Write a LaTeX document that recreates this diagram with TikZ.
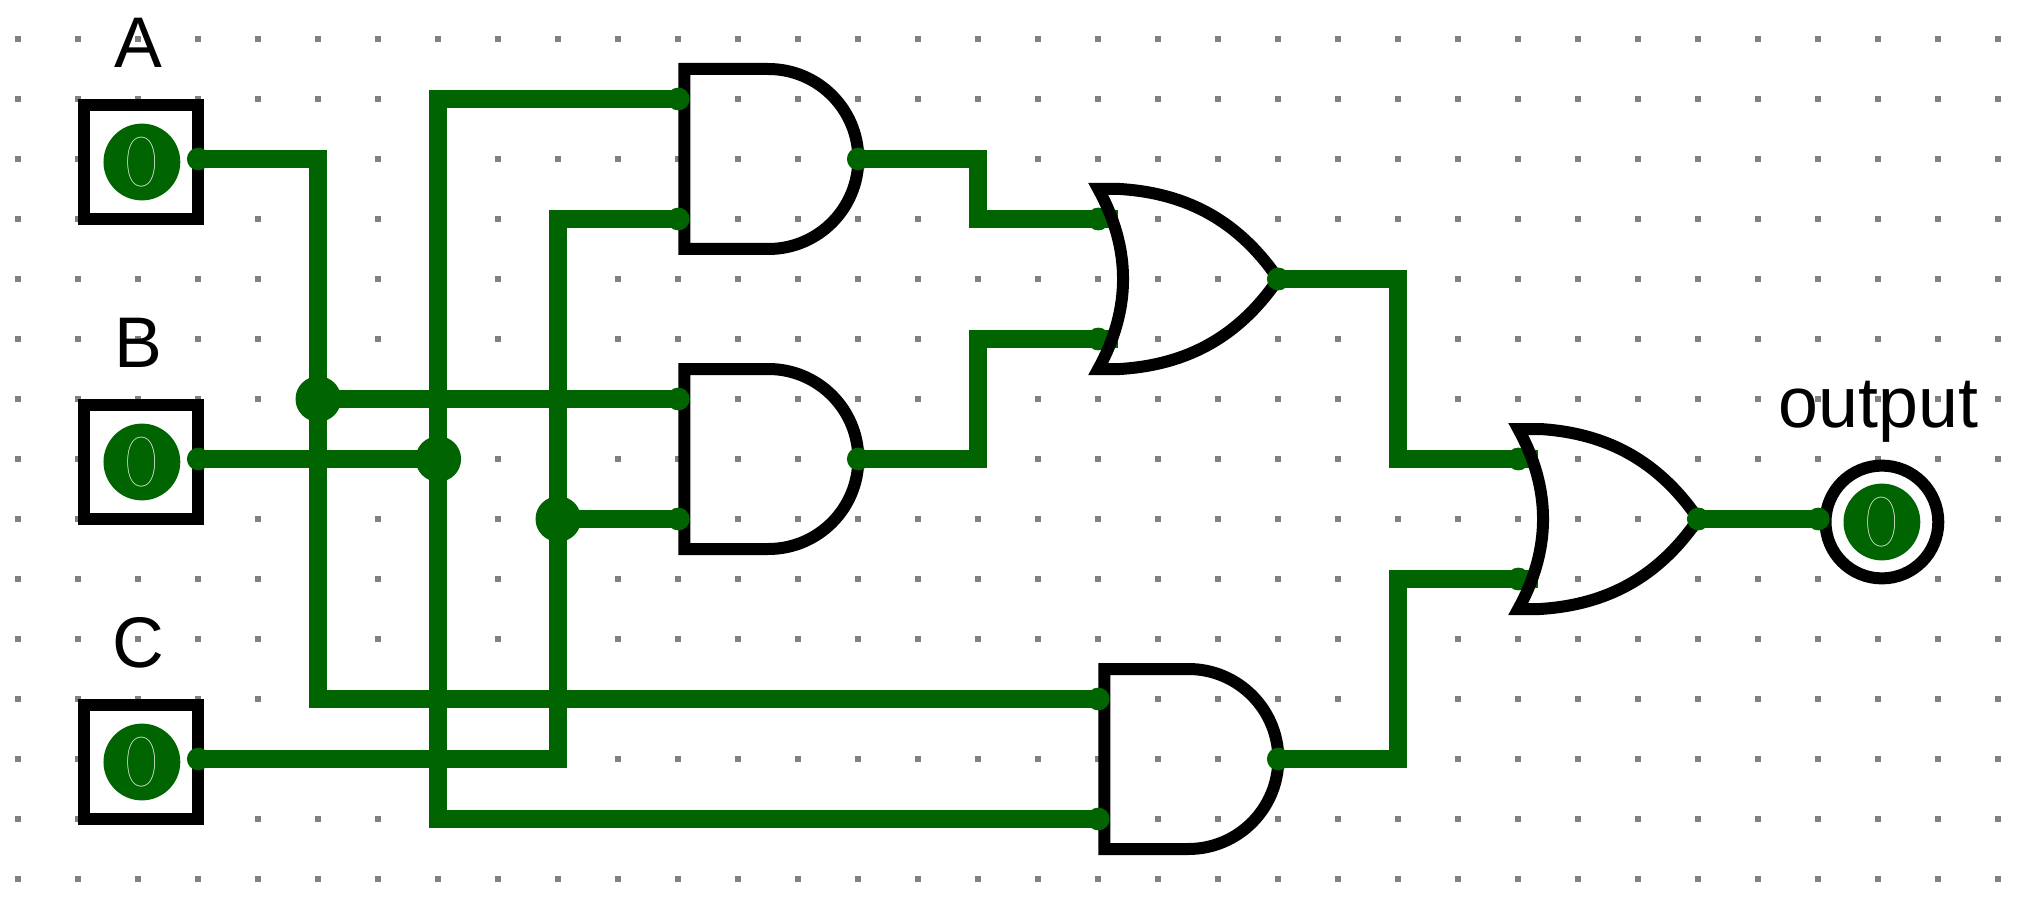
\documentclass[tikz,border=0pt]{standalone}
\usepackage{fontspec}
\setmainfont{Liberation Sans}
\newfontfamily\zerofont[FakeStretch=0.8]{Lato Thin}
\pgfdeclarelayer{under}
\pgfsetlayers{under,main}

\begin{document}
\begin{tikzpicture}[scale=1,
    griddot/.style={fill=gray},
    wire/.style={draw=wiregreen, line width=0.3cm},
    pin/.style={fill=wiregreen},
    junction/.style={circle, fill=wiregreen, minimum size=0.76cm, inner sep=0pt},
    lamp/.style={circle, fill=wiregreen, minimum size=1.28cm, inner sep=0pt, text=white, font=\zerofont\fontsize{33}{33}\selectfont},
    inbox/.style={draw=black, fill=white, line width=0.2cm, minimum size=1.9cm, inner sep=0pt},
    outring/.style={circle, draw=black, fill=white, line width=0.2cm, minimum size=1.88cm, inner sep=0pt},
    caption/.style={anchor=base, inner sep=0pt, font=\fontsize{34}{34}\selectfont},
    pics/andgate/.style={code={
        \draw[black, line width=0.2cm] (0.1,1.5) -- (1.5,1.5) arc (90:-90:1.5) -- (0.1,-1.5) -- cycle;
        \coordinate (-a) at (0,1);
        \coordinate (-b) at (0,-1);
        \coordinate (-o) at (3,0);
    }},
    pics/orgate/.style={code={
        \draw[black, line width=0.2cm] (0,1.5) -- (0.36,1.5) .. controls (1.5,1.43) and (2.35,0.95) .. (3,0)
            .. controls (2.35,-0.95) and (1.5,-1.43) .. (0.36,-1.5) -- (0,-1.5)
            .. controls (0.55,-0.5) and (0.55,0.5) .. cycle;
        \coordinate (-a) at (0,1);
        \coordinate (-b) at (0,-1);
        \coordinate (-as) at (0.33,1);
        \coordinate (-bs) at (0.33,-1);
        \coordinate (-o) at (3,0);
    }}]
    \definecolor{wiregreen}{RGB}{0,100,0}
    \useasboundingbox (-0.305,0.65) rectangle (33.745,-14.583);

    % Dots of the canvas
    \begin{pgfonlayer}{under}
    \foreach \i in {0,...,33}
        \foreach \j in {0,...,14}
            \fill[griddot] (\i-0.05,-\j-0.05) rectangle (\i+0.05,-\j+0.05);
    \end{pgfonlayer}

    % Inputs A, B, C
    \foreach \name/\y in {A/2,B/7,C/12} {
        \node[inbox] (box\name) at (2.05,{-\y-0.05}) {};
        \node[lamp] (lamp\name) at (2.06,{-\y-0.05}) {0};
        \node[caption] (label\name) at (2,{-\y+1.52}) {\name};
        \coordinate (pin\name) at (3,-\y);
    }

    % Gates
    \pic (and1) at (11,-2) {andgate};
    \pic (and2) at (11,-7) {andgate};
    \pic (and3) at (18,-12) {andgate};
    \pic (or1) at (18,-4) {orgate};
    \pic (or2) at (25,-8) {orgate};

    % Output
    \node[outring] (ringout) at (31.06,-8.05) {};
    \node[lamp] (lampout) at (31.06,-8.05) {0};
    \node[caption] (labelout) at (31,-6.48) {output};
    \coordinate (pinout) at (30,-8);

    % Branch points
    \coordinate (jA) at (5,-6);
    \coordinate (jB) at (7,-7);
    \coordinate (jC) at (9,-8);

    % Wires into the OR gates run under their outlines
    \begin{pgfonlayer}{under}
    \draw[wire] (and1-o) -- ++(2,0) |- (or1-as);
    \draw[wire] (and2-o) -- ++(2,0) |- (or1-bs);
    \draw[wire] (or1-o) -- ++(2,0) |- (or2-as);
    \draw[wire] (and3-o) -- ++(2,0) |- (or2-bs);
    \foreach \p in {or1-a,or1-b,or2-a,or2-b}
        \fill[pin] (\p) circle (0.19);
    \end{pgfonlayer}

    % Wires from the inputs
    \draw[wire] (pinA) -| (jA) |- (and3-a);
    \draw[wire] (jA) -- (and2-a);
    \draw[wire] (pinB) -- (jB);
    \draw[wire] (and1-a) -| (jB) |- (and3-b);
    \draw[wire] (pinC) -| (jC) |- (and1-b);
    \draw[wire] (jC) -- (and2-b);
    \draw[wire] (or2-o) -- (pinout);

    % Branch dots and pins
    \node[junction] (dotA) at (jA) {};
    \node[junction] (dotB) at (jB) {};
    \node[junction] (dotC) at (jC) {};
    \foreach \p in {pinA,pinB,pinC,and1-a,and1-b,and1-o,and2-a,and2-b,and2-o,and3-a,and3-b,and3-o,or1-o,or2-o,pinout}
        \fill[pin] (\p) circle (0.19);
\end{tikzpicture}
\end{document}
